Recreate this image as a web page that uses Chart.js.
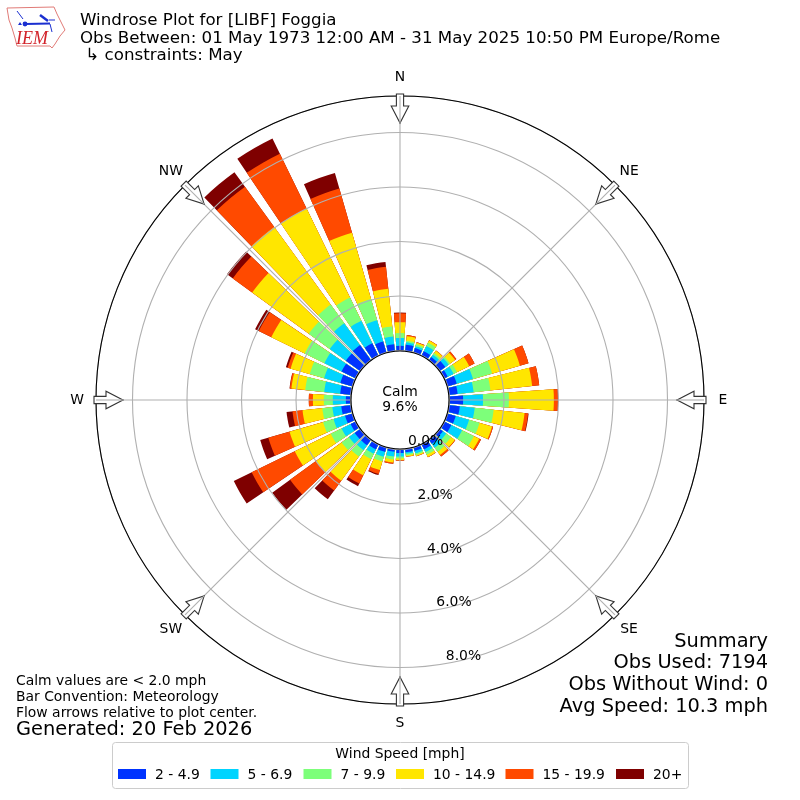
<!DOCTYPE html>
<html><head><meta charset="utf-8">
<style>html,body{margin:0;padding:0;background:#fff}canvas{display:block}</style>
<script src="https://cdn.jsdelivr.net/npm/chart.js@4"></script>
</head><body><canvas id="c" width="800" height="800"></canvas>
<script>
// Wind direction of each bar, degrees: 0, 10, ... 350 (index order)
const directions = ["0","10","20","30","40","50","60","70","80","90","100","110","120","130","140","150","160","170","180","190","200","210","220","230","240","250","260","270","280","290","300","310","320","330","340","350"];
const speedLabels = ["2 - 4.9","5 - 6.9","7 - 9.9","10 - 14.9","15 - 19.9","20+"];
const speedColors = ["#0033ff","#00d4ff","#7dff7a","#ffe600","#ff4a00","#7f0000"];
const s2to5   = [.17,.22,.17,.17,.13,.24,.13,.35,.31,.50,.39,.31,.28,.13,.17,.20,.13,.11,.13,.09,.17,.20,.24,.24,.20,.28,.35,.17,.39,.46,.57,.64,.68,.50,.42,.24];
const s5to7   = [.29,.09,.07,.22,.11,.15,.24,.62,.59,.73,.55,.51,.44,.15,.18,.11,.09,.06,.13,.18,.18,.18,.22,.26,.37,.44,.33,.48,.59,.62,.70,.73,.99,.92,.81,.29];
const s7to10  = [.18,.06,.07,.13,.07,.07,.14,.73,.62,.95,.70,.40,.48,.22,.18,.11,.06,.06,.07,.11,.18,.22,.29,.33,.44,.40,.37,.33,.70,.55,.81,.95,.84,.95,.81,.37];
const s10to15 = [.40,.17,.06,.09,.11,.22,.50,1.06,1.54,1.65,1.14,.48,.22,.17,.15,.09,.04,.04,.06,.11,.33,.66,1.10,1.17,1.47,1.28,.73,.40,.51,.73,1.36,2.57,3.52,3.63,2.53,1.39];
const s15to20 = [.33,.04,.02,.01,.01,.06,.22,.33,.26,.15,.13,.04,.07,.02,.07,.01,.01,.01,.02,.05,.15,.33,.44,1.17,1.76,.81,.37,.15,.06,.11,.51,.88,1.83,2.24,1.69,.81];
const s20plus = [.02,0,0,0,0,0,0,0,0,.01,.02,0,0,0,0,0,0,0,0,0,.04,.11,.40,.81,.73,.31,.22,0,.01,.07,.15,.26,.66,.62,.59,.18];
const speedSeries = [s2to5,s5to7,s7to10,s10to15,s15to20,s20plus];
const radialTicks = [0,2,4,6,8];
const compass = [["N",0],["NE",45],["E",90],["SE",135],["S",180],["SW",225],["W",270],["NW",315]];
const titleLines = ["Windrose Plot for [LIBF] Foggia","Obs Between: 01 May 1973 12:00 AM - 31 May 2025 10:50 PM Europe/Rome"," \u21B3 constraints: May"];
const summaryLines = ["Summary","Obs Used: 7194","Obs Without Wind: 0","Avg Speed: 10.3 mph"];
const noteLines = ["Calm values are < 2.0 mph","Bar Convention: Meteorology","Flow arrows relative to plot center."];
const generatedText = "Generated: 20 Feb 2026";
const calmText = ["Calm","9.6%"];
const legendTitle = "Wind Speed [mph]";

const FONT = '"DejaVu Sans"';
const rMin = -1.8165, rMax = 9.3395;
const barDeg = 8, gapDeg = 2;

// 72 slots: a bar then a gap, each bar painted as the running total of its speed classes
const labels = [];
directions.forEach(d => { labels.push(d); labels.push(""); });
const running = directions.map(() => 0);
const datasets = speedSeries.map((series, k) => {
  const data = [];
  series.forEach((v, i) => { running[i] += v; data.push(running[i]); data.push(rMin); });
  return { label: speedLabels[k], data, backgroundColor: speedColors[k], borderWidth: 0,
           angle: ctx => ctx.index % 2 === 0 ? barDeg : gapDeg };
});

function text(ctx, s, x, y, size, align, color) {
  ctx.font = size + 'px ' + FONT;
  ctx.textAlign = align || 'left';
  ctx.textBaseline = 'middle';
  ctx.fillStyle = color || '#000';
  ctx.fillText(s, x, y);
}

function arrow(ctx, cx, cy, deg) {
  ctx.save();
  ctx.translate(cx, cy);
  ctx.rotate(deg * Math.PI / 180);
  ctx.beginPath();
  ctx.moveTo(-3.6, -306); ctx.lineTo(3.6, -306); ctx.lineTo(3.6, -294);
  ctx.lineTo(8.8, -294); ctx.lineTo(0, -277); ctx.lineTo(-8.8, -294);
  ctx.lineTo(-3.6, -294); ctx.closePath();
  ctx.fillStyle = '#fff'; ctx.fill();
  ctx.strokeStyle = '#333'; ctx.lineWidth = 1.1; ctx.stroke();
  ctx.restore();
}

function drawLogo(ctx) {
  ctx.save();
  ctx.strokeStyle = '#e07a76'; ctx.lineWidth = 1;
  const o = [[7,8],[54,7],[57,14],[60,20],[63,26],[65,30],[60,36],[55,44],[52,48],[50,46],[17,46],[15,38],[12,28],[9,20]];
  ctx.beginPath();
  o.forEach((p, i) => i ? ctx.lineTo(p[0], p[1]) : ctx.moveTo(p[0], p[1]));
  ctx.closePath(); ctx.stroke();
  ctx.strokeStyle = '#1a2fd0'; ctx.fillStyle = '#1a2fd0'; ctx.lineWidth = 2;
  ctx.beginPath(); ctx.moveTo(25,24); ctx.lineTo(50,23.5); ctx.stroke();
  ctx.lineWidth = 1;
  ctx.beginPath(); ctx.moveTo(17,11); ctx.lineTo(23,19); ctx.stroke();
  ctx.beginPath(); ctx.moveTo(49,20); ctx.lineTo(55,20); ctx.moveTo(50,24); ctx.lineTo(52,32); ctx.stroke();
  ctx.lineWidth = 2.5;
  ctx.beginPath(); ctx.moveTo(40,15); ctx.lineTo(48,21); ctx.stroke();
  ctx.beginPath(); ctx.arc(25,24,2.4,0,7); ctx.fill();
  ctx.beginPath(); ctx.moveTo(20,22); ctx.lineTo(22,25); ctx.lineTo(18,25); ctx.closePath(); ctx.fill();
  ctx.fillStyle = '#d2232a';
  ctx.font = 'italic 18px "Liberation Serif"';
  ctx.textAlign = 'left'; ctx.textBaseline = 'alphabetic';
  ctx.fillText('IEM', 16, 44);
  ctx.restore();
}

const overlay = {
  id: 'overlay',
  afterDraw(chart) {
    const ctx = chart.ctx, s = chart.scales.r;
    const cx = s.xCenter, cy = s.yCenter, R = s.drawingArea;
    const r0 = s.getDistanceFromCenterForValue(0);
    ctx.save();
    // angular grid lines
    ctx.strokeStyle = '#b0b0b0'; ctx.lineWidth = 1.1;
    compass.forEach(c => {
      const a = c[1] * Math.PI / 180;
      ctx.beginPath();
      ctx.moveTo(cx + Math.sin(a) * r0, cy - Math.cos(a) * r0);
      ctx.lineTo(cx + Math.sin(a) * R, cy - Math.cos(a) * R);
      ctx.stroke();
    });
    // outer frame and calm circle
    ctx.strokeStyle = '#000';
    ctx.beginPath(); ctx.arc(cx, cy, R, 0, Math.PI * 2); ctx.stroke();
    ctx.beginPath(); ctx.arc(cx, cy, r0 - 0.5, 0, Math.PI * 2);
    ctx.fillStyle = '#fff'; ctx.fill(); ctx.stroke();
    compass.forEach(c => arrow(ctx, cx, cy, c[1]));
    ctx.lineWidth = 1.1;
    compass.forEach(c => {
      const a = c[1] * Math.PI / 180;
      ctx.strokeStyle = '#b0b0b0';
      ctx.beginPath();
      ctx.moveTo(cx + Math.sin(a) * 277, cy - Math.cos(a) * 277);
      ctx.lineTo(cx + Math.sin(a) * 304, cy - Math.cos(a) * 304);
      ctx.stroke();
    });
    // compass labels
    compass.forEach(c => {
      const a = c[1] * Math.PI / 180;
      const d = c[1] % 90 === 0 ? 323 : 324;
      const dy = c[1] % 90 === 0 ? 0 : 0.5;
      text(ctx, c[0], cx + Math.sin(a) * d, cy - Math.cos(a) * d + dy, 13.9, 'center');
    });
    // radial tick labels
    const la = 170 * Math.PI / 180;
    radialTicks.forEach(v => {
      const r = s.getDistanceFromCenterForValue(v);
      text(ctx, v.toFixed(1) + '%', cx + Math.sin(la) * r + 17, cy - Math.cos(la) * r - 7, 13.9, 'center');
    });
    text(ctx, calmText[0], 400, 392, 13.9, 'center');
    text(ctx, calmText[1], 400, 407.5, 13.9, 'center');
    // titles
    titleLines.forEach((t, i) => text(ctx, t, 80, 21 + i * 17.5, 15.3 * 640 / 587));
    summaryLines.forEach((t, i) => text(ctx, t, 768, 641.5 + i * 21.7, 19.4, 'right'));
    noteLines.forEach((t, i) => text(ctx, t, 16, 681 + i * 16, 13.9));
    text(ctx, generatedText, 16, 730, 19.4);
    drawLogo(ctx);
    // legend
    ctx.beginPath();
    ctx.roundRect(112.5, 742.5, 576, 46, 3);
    ctx.fillStyle = '#fff'; ctx.fill();
    ctx.strokeStyle = '#ccc'; ctx.lineWidth = 1; ctx.stroke();
    text(ctx, legendTitle, 400, 754.5, 13.9, 'center');
    const patchX = [118, 210.5, 303.5, 396, 505.5, 616];
    speedLabels.forEach((l, i) => {
      ctx.fillStyle = speedColors[i];
      ctx.fillRect(patchX[i], 769, 28, 10);
      text(ctx, l, patchX[i] + 37, 775.5, 13.9);
    });
    ctx.restore();
  }
};

new Chart(document.getElementById('c'), {
  type: 'polarArea',
  data: { labels, datasets },
  options: {
    responsive: false,
    animation: false,
    devicePixelRatio: 1,
    layout: { padding: 96 },
    plugins: { legend: { display: false }, tooltip: { enabled: false } },
    scales: { r: {
      min: rMin, max: rMax,
      startAngle: -barDeg / 2,
      beginAtZero: false,
      ticks: { display: false, stepSize: 2 },
      pointLabels: { display: false },
      angleLines: { display: false },
      grid: { color: '#b0b0b0', lineWidth: 1.1, circular: true, z: 1 }
    } }
  },
  plugins: [overlay]
});
</script></body></html>
